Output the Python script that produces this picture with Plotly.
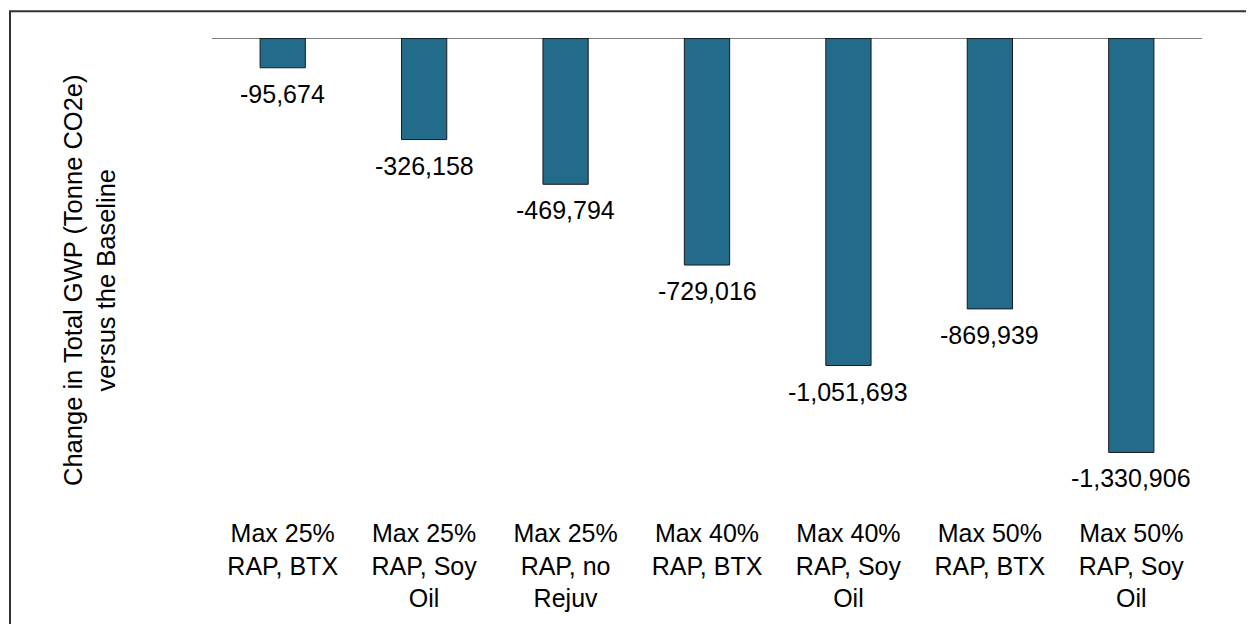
import plotly.graph_objects as go

categories = ["Max 25%<br>RAP, BTX", "Max 25%<br>RAP, Soy<br>Oil", "Max 25%<br>RAP, no<br>Rejuv",
              "Max 40%<br>RAP, BTX", "Max 40%<br>RAP, Soy<br>Oil", "Max 50%<br>RAP, BTX",
              "Max 50%<br>RAP, Soy<br>Oil"]
values = [-95674, -326158, -469794, -729016, -1051693, -869939, -1330906]
value_labels = ["{:,}".format(v) for v in values]
y_title = "Change in Total GWP (Tonne CO2e)<br>versus the Baseline"

FONT = "Liberation Sans, Arial, sans-serif"
OFF = 8  # page body margin
W, H = 1254 - OFF, 624 - OFF
ml, mt = 212 - OFF, 38 - OFF
mr = W - (1202 - OFF)
mb = H - (519 - OFF)

fig = go.Figure()
fig.add_trace(go.Bar(
    x=categories, y=values,
    marker=dict(color="#236B8B", line=dict(color="#1a1a1a", width=1)),
    width=0.32,
    hoverinfo="skip",
))

for c, v, t in zip(categories, values, value_labels):
    fig.add_annotation(x=c, y=v, xref="x", yref="y", text=t, showarrow=False,
                       yanchor="top", yshift=-10,
                       font=dict(family=FONT, size=25, color="#000"))

pw = W - ml - mr
ph = H - mt - mb
fig.add_annotation(x=(90 - OFF - ml) / pw, y=0.5 - 3 / ph, xref="paper", yref="paper", text=y_title,
                   showarrow=False, textangle=-90, xanchor="center", yanchor="middle",
                   font=dict(family=FONT, size=25.5, color="#000"))

# zero line
fig.add_shape(type="line", xref="paper", yref="y", x0=0, x1=1, y0=0, y1=0,
              line=dict(color="#000", width=1.2))
# outer frame
fig.add_shape(type="rect", xref="paper", yref="paper",
              x0=(10 - OFF - ml) / pw, x1=(1300 - ml) / pw,
              y0=-0.5, y1=1 + (mt - (11 - OFF)) / ph,
              line=dict(color="#333", width=2), layer="below")

fig.update_layout(
    width=W, height=H,
    margin=dict(l=ml, r=mr, t=mt, b=mb),
    paper_bgcolor="white", plot_bgcolor="white",
    showlegend=False,
    bargap=0.68,
    font=dict(family=FONT, size=25, color="#000"),
    xaxis=dict(showline=False, showgrid=False, zeroline=False, ticks="",
               tickfont=dict(family=FONT, size=25, color="#000"), tickangle=0),
    yaxis=dict(range=[-1535000, 0], showticklabels=False, showgrid=False,
               zeroline=False, showline=False, ticks=""),
)

fig.write_html("out.html")
